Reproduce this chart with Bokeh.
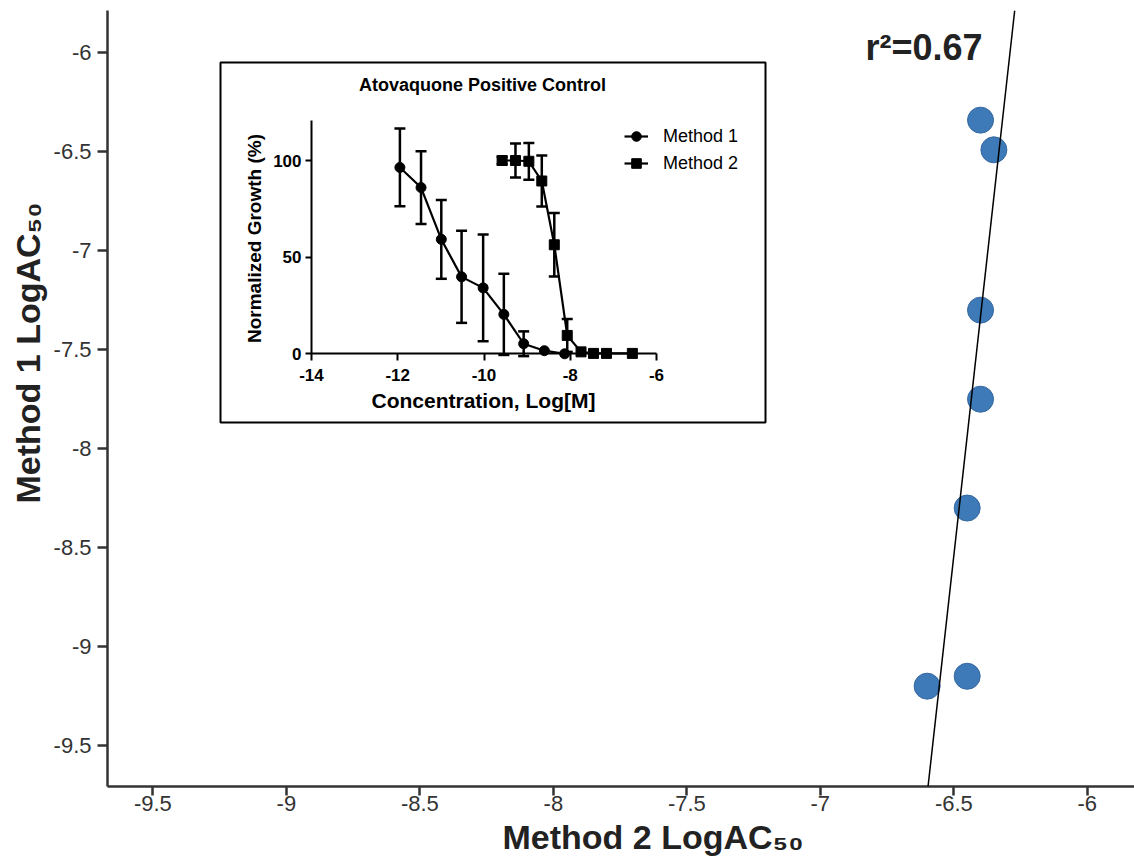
import numpy as np
from bokeh.plotting import figure
from bokeh.models import (Range1d, FixedTicker, Label, Slope, Legend, LegendItem,
                          ColumnDataSource, LinearAxis, BoxAnnotation, Title)
from bokeh.embed import file_html
from bokeh.resources import INLINE

# ---------------- data: main scatter ----------------
method2_logac50 = [-6.40, -6.35, -6.40, -6.40, -6.45, -6.45, -6.60]
method1_logac50 = [-6.34, -6.49, -7.30, -7.75, -8.30, -9.15, -9.20]
fit_slope = 12.08
fit_intercept = 69.98
r2_text = "r²=0.67"
main_ticks = [-9.5, -9, -8.5, -8, -7.5, -7, -6.5, -6]
main_tick_labels = ["-9.5", "-9", "-8.5", "-8", "-7.5", "-7", "-6.5", "-6"]
x_title = "Method 2 LogAC₅₀"
y_title = "Method 1 LogAC₅₀"

# ---------------- data: inset dose-response ----------------
inset_title = "Atovaquone Positive Control"
m1_conc = [-11.95, -11.46, -10.99, -10.52, -10.02, -9.54, -9.08, -8.60, -8.13]
m1_growth = [96.4, 86.0, 59.2, 39.8, 34.1, 20.4, 5.2, 1.6, 0.0]
m1_err = [20.1, 18.8, 20.4, 23.8, 27.6, 21.0, 6.4, 0.0, 0.0]
m2_conc = [-9.58, -9.27, -8.96, -8.66, -8.37, -8.07, -7.75, -7.46, -7.16, -6.56]
m2_growth = [100.0, 100.0, 99.6, 89.4, 56.4, 9.5, 1.0, 0.2, 0.2, 0.2]
m2_err = [2.0, 8.8, 9.5, 13.2, 16.4, 8.5, 0.0, 0.0, 0.0, 0.0]
inset_xticks = [-14, -12, -10, -8, -6]
inset_xtick_labels = ["-14", "-12", "-10", "-8", "-6"]
inset_yticks = [0, 50, 100]
inset_xlabel = "Concentration, Log[M]"
inset_ylabel = "Normalized Growth (%)"
series_names = ["Method 1", "Method 2"]

FONT = "Liberation Sans"
AX = "#333333"
TXT = "#222222"

# ---------------- main figure (canvas sits at page 0,0) ----------------
W, H = 1134, 867
ML, MR, MT, MB = 107, 0, 10, 81
x_start, x_end = -9.67, -5.8233
y_start, y_end = -9.707, -5.786

p = figure(width=W, height=H, x_range=Range1d(x_start, x_end),
           y_range=Range1d(y_start, y_end), output_backend="svg",
           toolbar_location=None, min_border_left=ML, min_border_right=MR,
           min_border_top=MT, min_border_bottom=MB)
p.grid.visible = False
p.outline_line_color = None
p.background_fill_color = "white"
p.border_fill_color = "white"

for ax in (p.xaxis[0], p.yaxis[0]):
    ax.ticker = FixedTicker(ticks=main_ticks)
    ax.major_label_overrides = {t: l for t, l in zip(main_ticks, main_tick_labels)}
    ax.axis_line_width = 2.5
    ax.axis_line_color = AX
    ax.major_tick_line_width = 2.5
    ax.major_tick_line_color = AX
    ax.major_tick_in = 0
    ax.minor_tick_line_color = None
    ax.major_label_text_font = FONT
    ax.major_label_text_font_size = "22px"
    ax.major_label_text_color = AX
p.xaxis.major_tick_out = 9
p.yaxis.major_tick_out = 10
p.xaxis.major_label_standoff = 0
p.yaxis.major_label_standoff = 6

# axis titles as Titles in the side panels (shifted along the axis)
p.add_layout(Title(text=x_title, align="left", offset=395, standoff=4,
                   text_font=FONT, text_font_size="34px",
                   text_font_style="bold", text_color=TXT), "below")
p.add_layout(Title(text=y_title, align="left", offset=283, standoff=7,
                   text_font=FONT, text_font_size="34px",
                   text_font_style="bold", text_color=TXT), "left")

p.scatter(x=method2_logac50, y=method1_logac50, size=26,
          fill_color="#3D7AB7", line_color="#3568A0", line_width=1)
p.add_layout(Slope(gradient=fit_slope, y_intercept=fit_intercept,
                   line_color="black", line_width=1.5))

# pixel -> data helpers
FL, FR, FT, FB = ML, W - MR, MT, H - MB


def px2x(px):
    return x_start + (px - FL) / (FR - FL) * (x_end - x_start)


def py2y(py):
    return y_end - (py - FT) / (FB - FT) * (y_end - y_start)


p.add_layout(Label(x=px2x(865), y=py2y(47), text=r2_text, text_font=FONT,
                   text_font_size="36px", text_font_style="bold",
                   text_color=TXT, text_align="left",
                   text_baseline="alphabetic"))

# ---------------- inset (drawn on extra ranges of the same figure) -------
BOX = (220, 62, 765, 422)          # px: left, top, right, bottom
IX_L, IX_R = 311, 656              # px of inset x = -14 and -6
IY_0, IY_100 = 353.3, 160          # px of inset y = 0 and 100
ix_pp = (inset_xticks[-1] - inset_xticks[0]) / (IX_R - IX_L)
iy_pp = 100.0 / (IY_0 - IY_100)
p.extra_x_ranges = {"ix": Range1d(inset_xticks[0] + (FL - IX_L) * ix_pp,
                                  inset_xticks[0] + (FR - IX_L) * ix_pp)}
p.extra_y_ranges = {"iy": Range1d((IY_0 - FB) * iy_pp, (IY_0 - FT) * iy_pp)}
iy_top = (IY_0 - 120) * iy_pp

p.add_layout(BoxAnnotation(left=px2x(BOX[0]), right=px2x(BOX[2]),
                           top=py2y(BOX[1]), bottom=py2y(BOX[3]),
                           fill_color="white", fill_alpha=1.0,
                           line_color="black", line_alpha=1.0, line_width=2,
                           level="underlay"))

iax_x = LinearAxis(x_range_name="ix", y_range_name="iy", fixed_location=0,
                   bounds=(inset_xticks[0], inset_xticks[-1]),
                   ticker=FixedTicker(ticks=inset_xticks))
iax_x.major_label_overrides = {t: l for t, l in zip(inset_xticks, inset_xtick_labels)}
iax_y = LinearAxis(x_range_name="ix", y_range_name="iy",
                   fixed_location=inset_xticks[0], bounds=(0, iy_top),
                   ticker=FixedTicker(ticks=inset_yticks))
for ax in (iax_x, iax_y):
    ax.axis_line_width = 2
    ax.axis_line_color = "black"
    ax.major_tick_line_width = 2
    ax.major_tick_line_color = "black"
    ax.major_tick_in = 0
    ax.minor_tick_line_color = None
    ax.major_label_text_font = FONT
    ax.major_label_text_font_size = "17px"
    ax.major_label_text_font_style = "bold"
    ax.major_label_text_color = "black"
iax_x.major_tick_out = 7
iax_y.major_tick_out = 6
iax_x.major_label_standoff = 8
iax_y.major_label_standoff = 4
p.add_layout(iax_x, "below")
p.add_layout(iax_y, "left")

src1 = ColumnDataSource(dict(x=m1_conc, y=m1_growth,
                             lo=[g - e for g, e in zip(m1_growth, m1_err)],
                             hi=[g + e for g, e in zip(m1_growth, m1_err)]))
src2 = ColumnDataSource(dict(x=m2_conc, y=m2_growth,
                             lo=[g - e for g, e in zip(m2_growth, m2_err)],
                             hi=[g + e for g, e in zip(m2_growth, m2_err)]))
rk = dict(x_range_name="ix", y_range_name="iy")
renderers = []
for src, err, marker in ((src1, m1_err, "circle"), (src2, m2_err, "square")):
    d = src.data
    keep = [i for i, e in enumerate(err) if e > 0]
    esrc = ColumnDataSource(dict(x=[d["x"][i] for i in keep],
                                 lo=[d["lo"][i] for i in keep],
                                 hi=[d["hi"][i] for i in keep]))
    p.segment(x0="x", y0="lo", x1="x", y1="hi", source=esrc,
              line_color="black", line_width=2.5, **rk)
    p.scatter(x="x", y="lo", source=esrc, marker="dash", size=11,
              line_color="black", line_width=2.5, **rk)
    p.scatter(x="x", y="hi", source=esrc, marker="dash", size=11,
              line_color="black", line_width=2.5, **rk)
    ln = p.line(x="x", y="y", source=src, line_color="black", line_width=2.2, **rk)
    sc = p.scatter(x="x", y="y", source=src, marker=marker, size=10,
                   fill_color="black", line_color="black", **rk)
    renderers.append((ln, sc))

p.add_layout(Label(x=px2x(482), y=py2y(84), text=inset_title, text_font=FONT,
                   text_font_size="18px", text_font_style="bold",
                   text_color="black", text_align="center",
                   text_baseline="alphabetic"))
p.add_layout(Label(x=px2x(483), y=py2y(400), text=inset_xlabel, text_font=FONT,
                   text_font_size="21px", text_font_style="bold",
                   text_color="black", text_align="center",
                   text_baseline="alphabetic"))
p.add_layout(Label(x=px2x(254), y=py2y(238), text=inset_ylabel, text_font=FONT,
                   text_font_size="19px", text_font_style="bold",
                   text_color="black", text_align="center",
                   text_baseline="alphabetic", angle=np.pi / 2))

legend = Legend(items=[LegendItem(label=series_names[0], renderers=list(renderers[0])),
                       LegendItem(label=series_names[1], renderers=list(renderers[1]))],
                location=(624 - FL, FB - 175), glyph_width=24, glyph_height=24,
                spacing=3, padding=0, margin=0, label_standoff=15,
                label_text_font=FONT, label_text_font_size="18px",
                label_text_color="black",
                border_line_color=None, background_fill_alpha=0)
p.add_layout(legend)

open("out.html", "w").write(file_html(p, INLINE, title="LogAC50 comparison"))
